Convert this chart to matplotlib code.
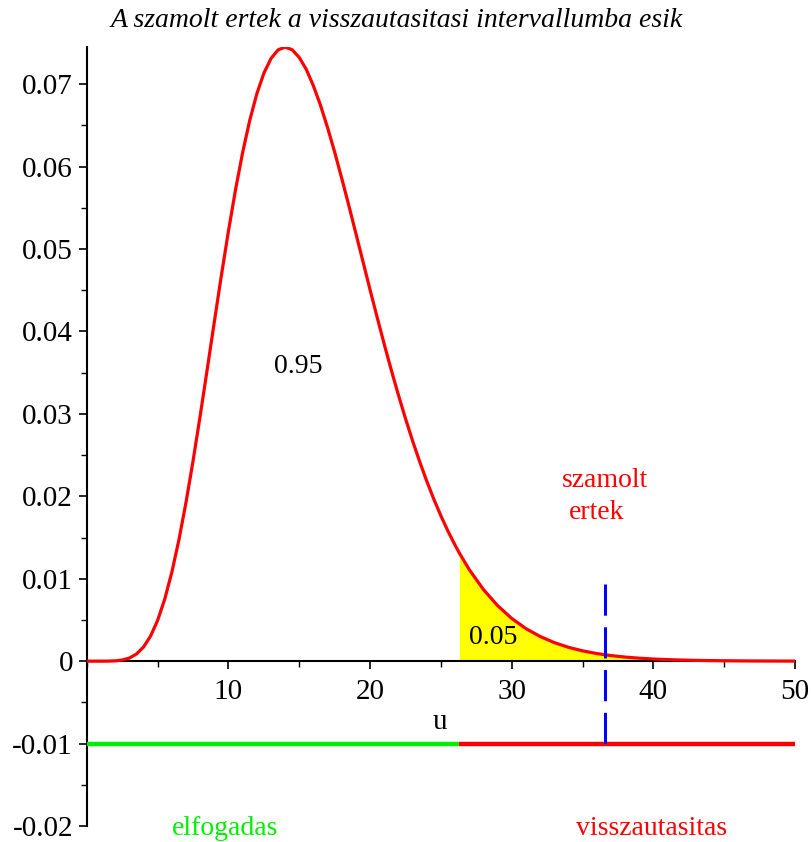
import matplotlib
matplotlib.use("Agg")
import matplotlib.pyplot as plt
import numpy as np
from matplotlib.ticker import MultipleLocator

plt.rcParams['font.family'] = ['Liberation Serif', 'DejaVu Serif']

# density values (u from 0 to 50)
u_vals = [0, 1, 1.5, 2, 2.5, 3, 3.5, 4, 4.5, 5, 5.5, 6, 6.5, 7, 7.5, 8, 8.5, 9, 9.5,
          10, 10.5, 11, 11.5, 12, 12.5, 13, 13.5, 14, 14.5, 15, 15.5, 16, 16.5,
          17, 17.5, 18, 18.5, 19, 19.5, 20, 20.5, 21, 21.5, 22, 22.5, 23, 23.5,
          24, 24.5, 25, 25.5, 26, 26.3, 27, 28, 29, 30, 31, 32, 33, 34, 35,
          36, 37, 38, 39, 40, 41, 42, 43, 44, 45, 46, 47, 48, 49, 50]
f_vals = [0.0, 0.0000005, 0.0000063, 0.0000365, 0.000136, 0.000378, 0.000866,
          0.001719, 0.003051, 0.00497, 0.007541, 0.01080, 0.01473, 0.01927,
          0.02433, 0.02977, 0.03544, 0.04118, 0.04683, 0.05222, 0.05723,
          0.06173, 0.06562, 0.06884, 0.07135, 0.07312, 0.07417, 0.07450,
          0.07418, 0.07324, 0.07177, 0.06979, 0.06743, 0.06471, 0.06175,
          0.05856, 0.05526, 0.05186, 0.04845, 0.04504, 0.04170, 0.03844,
          0.03529, 0.03229, 0.02942, 0.02673, 0.02420, 0.02184, 0.01965,
          0.01763, 0.01577, 0.01407, 0.01313,
          0.01111, 0.008696, 0.006743, 0.005185, 0.003956, 0.002997, 0.002255,
          0.001685, 0.001252, 0.000925, 0.000680, 0.000497, 0.000361, 0.000262,
          0.000189, 0.000135, 0.000097, 0.000069, 0.000049, 0.000035, 0.000024,
          0.000017, 0.000012, 0.0000084]
critical = 26.3
computed = 36.58
band_level = -0.01
x_ticks = [10, 20, 30, 40, 50]
y_ticks = [-0.02, -0.01, 0, 0.01, 0.02, 0.03, 0.04, 0.05, 0.06, 0.07]
y_tick_labels = ['-0.02', '-0.01', '0', '0.01', '0.02', '0.03', '0.04', '0.05', '0.06', '0.07']

u = np.array(u_vals)
f = np.array(f_vals)

fig = plt.figure(figsize=(8.12, 8.42), dpi=100)
ax = fig.add_axes([0.107, 0.019, 0.872, 0.925])

mask = u >= critical
ax.fill_between(u[mask], 0, f[mask], color='#ffff00', lw=0, zorder=1)
ax.plot(u, f, color='#ff0000', lw=2.3, zorder=3)

ax.plot([0, critical], [band_level, band_level], color='#00ee00', lw=3.2, solid_capstyle='butt', zorder=3)
ax.plot([critical, 50], [band_level, band_level], color='#ff0000', lw=3.2, solid_capstyle='butt', zorder=3)
ax.plot([computed, computed], [0.0094, -0.0100], color='#0000ff', lw=2.2,
        dashes=(10.2, 3.8), dash_capstyle='butt', zorder=4)

ax.set_xlim(0, 50)
ax.set_ylim(-0.02, 0.0745)

ax.spines['top'].set_visible(False)
ax.spines['right'].set_visible(False)
ax.spines['left'].set_position(('data', 0))
ax.spines['bottom'].set_position(('data', 0))
ax.spines['left'].set_linewidth(1.5)
ax.spines['bottom'].set_linewidth(1.5)
ax.spines['left'].set_zorder(2)
ax.spines['bottom'].set_zorder(2)

ax.set_xticks(x_ticks)
ax.xaxis.set_minor_locator(MultipleLocator(5))
ax.set_yticks(y_ticks)
ax.set_yticklabels(y_tick_labels)
ax.yaxis.set_minor_locator(MultipleLocator(0.005))
ax.tick_params(axis='both', which='major', length=6, width=1.2, labelsize=21, pad=4)
ax.tick_params(axis='both', which='minor', length=4.3, width=1.0)
ax.tick_params(axis='x', pad=7)

ax.text(14.9, 0.0358, '0.95', fontsize=20, ha='center', va='center')
ax.text(28.7, 0.0029, '0.05', fontsize=20, ha='center', va='center')
ax.text(36.6, 0.0219, 'szamolt', fontsize=20, color='#ff0000', ha='center', va='center')
ax.text(36.0, 0.0180, 'ertek', fontsize=20, color='#ff0000', ha='center', va='center')
ax.text(24.9, -0.0074, 'u', fontsize=21, ha='center', va='center')
ax.text(9.75, -0.0203, 'elfogadas', fontsize=20, color='#00ee00', ha='center', va='center')
ax.text(39.9, -0.0203, 'visszautasitas', fontsize=20, color='#ff0000', ha='center', va='center')

fig.text(0.489, 0.976, 'A szamolt ertek a visszautasitasi intervallumba esik',
         fontsize=20, style='italic', ha='center', va='center')

fig.savefig('out.png', dpi=100)
